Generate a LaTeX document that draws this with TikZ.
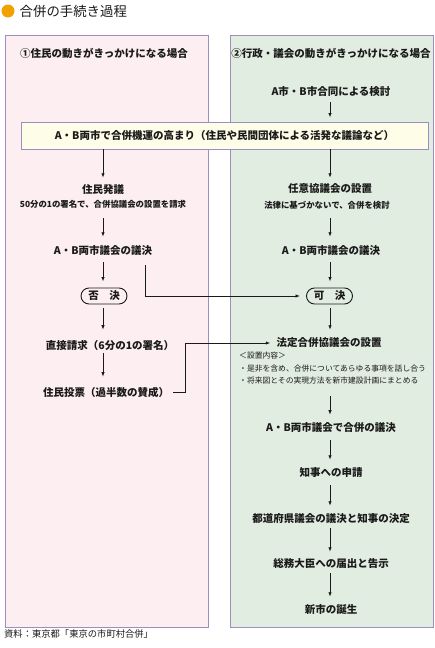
\documentclass[tikz,border=0pt]{standalone}
\usepackage{fontspec}
\setmainfont{Noto Sans CJK JP}
\usetikzlibrary{arrows.meta,shapes.misc}
\definecolor{pinkbg}{HTML}{FDEEF1}
\definecolor{greenbg}{HTML}{E2EDE1}
\definecolor{frame}{HTML}{9A8FBF}
\definecolor{yellowbg}{HTML}{FEFEE8}
\definecolor{dot}{HTML}{F2A200}
\definecolor{ink}{HTML}{1A1A1A}
\begin{document}
\begin{tikzpicture}[x=1pt,y=-1pt,
  lbl/.style={font=\fontsize{10.5}{12}\selectfont\bfseries, text=ink, inner sep=1pt},
  sub/.style={font=\fontsize{8.4}{9}\selectfont\bfseries, text=ink, inner sep=1pt},
  note/.style={font=\fontsize{7.8}{9}\selectfont, text=ink, inner sep=0pt, anchor=west},
  pill/.style={lbl, draw=ink, line width=0.9pt, rounded rectangle, minimum width=46pt, minimum height=16pt, inner sep=0pt},
  panel/.style={draw=frame, line width=0.9pt},
  bigbox/.style={lbl, draw=frame, line width=0.9pt, fill=yellowbg, minimum width=407pt, minimum height=27pt},
  flow/.style={draw=ink, line width=0.8pt, -{Latex[length=4.5pt,width=3.4pt]}},
  plain/.style={draw=ink, line width=0.8pt}]
\useasboundingbox (0,0) rectangle (435,648);
\fill[white] (0,0) rectangle (435,648);
% title
\fill[dot] (8,11) circle (6.5);
\node[anchor=west, font=\fontsize{13.4}{15}\selectfont, text=ink, inner sep=0pt] (title) at (19.5,11) {合併の手続き過程};
% panels
\filldraw[panel, fill=pinkbg] (5,35) rectangle (208,627);
\filldraw[panel, fill=greenbg] (230,35) rectangle (433,627);
\node[lbl] (hl) at (104,53) {①住民の動きがきっかけになる場合};
\node[lbl] (hr) at (331,53) {②行政・議会の動きがきっかけになる場合};
% right top
\node[lbl] (R0) at (331,92) {A市・B市合同による検討};
\node[bigbox] (box) at (224.5,135.5) {A・B両市で合併機運の高まり（住民や民間団体による活発な議論など）};
% left column
\node[lbl] (L1) at (103,190) {住民発議};
\node[sub] (L1s) at (103,204) {50分の1の署名で、合併協議会の設置を請求};
\node[lbl] (L2) at (103,251) {A・B両市議会の議決};
\node[pill] (L3) at (104,296) {否　決};
\node[lbl] (L4) at (110,345) {直接請求（6分の1の署名）};
\node[lbl] (L5) at (106,392) {住民投票（過半数の賛成）};
% right column
\node[lbl] (R1) at (330,189) {任意協議会の設置};
\node[sub] (R1s) at (327,205) {法律に基づかないで、合併を検討};
\node[lbl] (R2) at (331,251) {A・B両市議会の議決};
\node[pill] (R3) at (329.5,296) {可　決};
\node[lbl] (R4) at (329,343) {法定合併協議会の設置};
\node[note] (n1) at (239,356) {＜設置内容＞};
\node[note] (n2) at (239,368.5) {・是非を含め、合併についてあらゆる事項を話し合う};
\node[note] (n3) at (239,381) {・将来図とその実現方法を新市建設計画にまとめる};
\node[lbl] (R5) at (331,428) {A・B両市議会で合併の議決};
\node[lbl] (R6) at (331,473) {知事への申請};
\node[lbl] (R7) at (331,519) {都道府県議会の議決と知事の決定};
\node[lbl] (R8) at (331,564) {総務大臣への届出と告示};
\node[lbl] (R9) at (331,609) {新市の誕生};
% source
\node[anchor=west, font=\fontsize{9.3}{11}\selectfont, text=ink, inner sep=0pt] (src) at (4,634) {資料：東京都「東京の市町村合併」};
% coordinates
\coordinate (c1) at (145,265);
\coordinate (c2) at (185,392);
\coordinate (lx) at (103,0);
\coordinate (rx) at (330,0);
% left arrows
\draw[flow, shorten >=6pt] (box.south -| lx) -- (L1.north -| lx);
\draw[flow, shorten <=9pt, shorten >=8pt] (L1s.south -| lx) -- (L2.north -| lx);
\draw[flow, shorten <=5pt, shorten >=6pt] (L2.south -| lx) -- (L3.north -| lx);
\draw[flow, shorten <=4pt, shorten >=9pt] (L3.south -| lx) -- (L4.north -| lx);
\draw[flow, shorten <=2pt, shorten >=9pt] (L4.south -| lx) -- (L5.north -| lx);
% right arrows
\draw[flow, shorten <=4pt, shorten >=4pt] (R0.south -| rx) -- (box.north -| rx);
\draw[flow, shorten >=5pt] (box.south -| rx) -- (R1.north -| rx);
\draw[flow, shorten <=8pt, shorten >=8pt] (R1s.south -| rx) -- (R2.north -| rx);
\draw[flow, shorten <=5pt, shorten >=6pt] (R2.south -| rx) -- (R3.north -| rx);
\draw[flow, shorten <=4pt, shorten >=7pt] (R3.south -| rx) -- (R4.north -| rx);
\draw[flow, shorten <=11pt, shorten >=7pt] (n3.south -| rx) -- (R5.north -| rx);
\draw[flow, shorten <=6pt, shorten >=7pt] (R5.south -| rx) -- (R6.north -| rx);
\draw[flow, shorten <=6pt, shorten >=7pt] (R6.south -| rx) -- (R7.north -| rx);
\draw[flow, shorten <=3pt, shorten >=6pt] (R7.south -| rx) -- (R8.north -| rx);
\draw[flow, shorten <=3pt, shorten >=6pt] (R8.south -| rx) -- (R9.north -| rx);
% cross connectors
\draw[flow, shorten >=6pt] (c1) |- (R3.west);
\draw[flow, shorten <=3pt, shorten >=5pt] (L5.east) -- (c2) |- (R4.west);
\end{tikzpicture}
\end{document}
